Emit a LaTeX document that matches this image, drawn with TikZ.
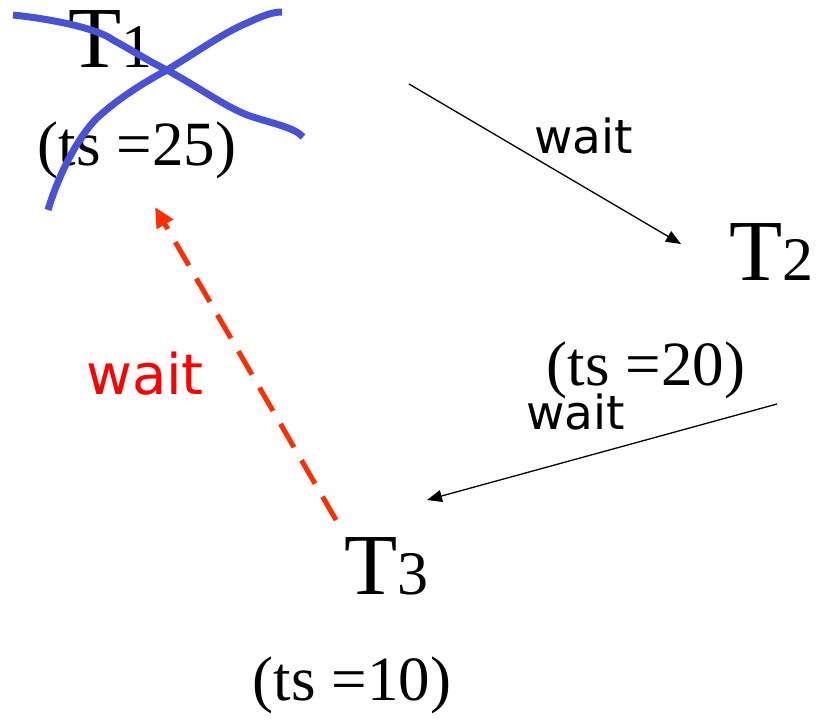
\documentclass[tikz,border=0pt]{standalone}
\usepackage{fontspec}
\setmainfont{Liberation Serif}
\newfontfamily\waitfont{DejaVu Sans}
\usetikzlibrary{arrows.meta}
\definecolor{crossblue}{RGB}{72,82,214}
\definecolor{dashred}{RGB}{255,45,0}
\newcommand{\subdigit}[1]{{\fontsize{62}{62}\selectfont #1}}
\tikzset{
  tname/.style={anchor=base west, inner sep=0pt, font=\fontsize{87}{87}\selectfont},
  tslabel/.style={anchor=base, inner sep=0pt, font=\fontsize{63}{63}\selectfont},
  waitlabel/.style={anchor=base west, inner sep=0pt, font=\waitfont\fontsize{47}{47}\selectfont},
  waitarrow/.style={line width=1.3pt, -{Triangle[length=15pt,width=12pt]}},
  redarrow/.style={dashred, line width=5pt, dash pattern=on 27pt off 15pt, -{Triangle[length=20pt,width=18pt]}},
  crossline/.style={crossblue, line width=7pt, line cap=butt}
}
\begin{document}
\begin{tikzpicture}[x=1pt,y=-1pt]
\useasboundingbox (0,0) rectangle (819,720);
% transactions
\node[tname] (t1) at (68,67) {T\subdigit{1}};
\node[tslabel] (ts1) at (137,165) {(ts =25)};
\node[tname] (t2) at (729,280) {T\subdigit{2}};
\node[tslabel] (ts2) at (646,385) {(ts =20)};
\node[tname] (t3) at (344,594) {T\subdigit{3}};
\node[tslabel] (ts3) at (352,700) {(ts =10)};
% wait labels
\node[waitlabel] (w1) at (534,153) {wait};
\node[waitlabel] (w2) at (526,429) {wait};
\node[waitlabel, text=red, font=\waitfont\fontsize{56}{56}\selectfont] (w3) at (86,394) {wait};
% arrow endpoints
\coordinate (a1s) at (409,84);
\coordinate (a1e) at (681,244);
\coordinate (a2s) at (777,404);
\coordinate (a2e) at (427,500);
\coordinate (a3s) at (336,520);
\coordinate (a3e) at (155,207);
\draw[waitarrow] (a1s) -- (a1e);
\draw[waitarrow] (a2s) -- (a2e);
\draw[redarrow] (a3s) -- (a3e);
% cross over T1
\draw[crossline] (13,15) .. controls (60,20) and (100,30) .. (113,40)
  .. controls (135,52) and (150,62) .. (167,70)
  .. controls (200,88) and (230,110) .. (253,117)
  .. controls (275,124) and (295,128) .. (303,137);
\draw[crossline] (48,210) .. controls (60,170) and (80,135) .. (97,118)
  .. controls (120,97) and (145,82) .. (167,70)
  .. controls (200,50) and (225,32) .. (247,23)
  .. controls (262,16) and (272,12) .. (282,12);
\end{tikzpicture}
\end{document}
